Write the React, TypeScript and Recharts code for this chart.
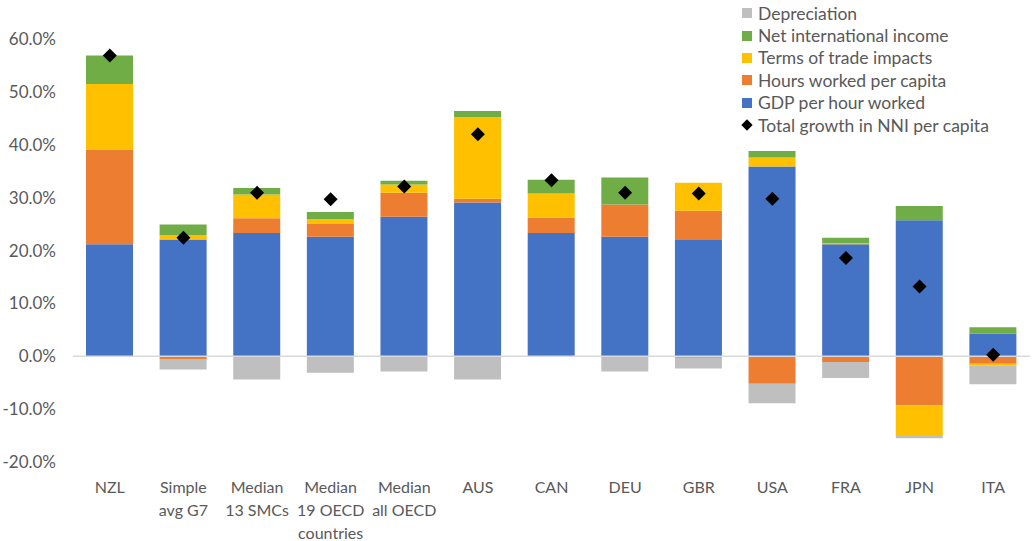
import {
  Bar,
  ComposedChart,
  Line,
  ReferenceLine,
  XAxis,
  YAxis,
} from 'recharts'

if (typeof document !== 'undefined') document.body.style.margin = '0'

const FONT = 'Lato, "Open Sans", sans-serif'
const TEXT = '#595959'

const CATEGORIES = [
  'NZL',
  'Simple\navg G7',
  'Median\n13 SMCs',
  'Median\n19 OECD\ncountries',
  'Median\nall OECD',
  'AUS',
  'CAN',
  'DEU',
  'GBR',
  'USA',
  'FRA',
  'JPN',
  'ITA',
]

/** 單位：百分點 */
const GDP_PER_HOUR = [21.2, 22.1, 23.3, 22.6, 26.4, 29.1, 23.3, 22.6, 22.0, 35.9, 21.2, 25.7, 4.3]
const HOURS_PER_CAPITA = [17.9, -0.5, 2.8, 2.4, 4.5, 0.7, 2.9, 6.1, 5.5, -5.2, -1.1, -9.3, -1.4]
const TERMS_OF_TRADE = [12.4, 0.8, 4.5, 0.9, 1.6, 15.4, 4.6, 0, 5.3, 1.7, 0.2, -5.8, -0.4]
const NET_INTL_INCOME = [5.4, 2.0, 1.2, 1.4, 0.7, 1.2, 2.6, 5.1, -0.3, 1.2, 1.0, 2.7, 1.2]
const DEPRECIATION = [0, -2.0, -4.4, -3.1, -2.9, -4.4, 0, -2.9, -2.0, -3.7, -3.0, -0.4, -3.5]
const TOTAL_NNI = [56.9, 22.4, 30.9, 29.7, 32.1, 42.0, 33.3, 30.9, 30.8, 29.8, 18.6, 13.2, 0.3]

const Y_TICKS = [-20, -10, 0, 10, 20, 30, 40, 50, 60]

const C = {
  gdp: '#4472C4',
  hours: '#ED7D31',
  tot: '#FFC000',
  nii: '#70AD47',
  dep: '#BFBFBF',
}

const LEGEND_ITEMS = [
  { label: 'Depreciation', color: C.dep, kind: 'square' },
  { label: 'Net international income', color: C.nii, kind: 'square' },
  { label: 'Terms of trade impacts', color: C.tot, kind: 'square' },
  { label: 'Hours worked per capita', color: C.hours, kind: 'square' },
  { label: 'GDP per hour worked', color: C.gdp, kind: 'square' },
  { label: 'Total growth in NNI per capita', color: '#000000', kind: 'diamond' },
]

const data = CATEGORIES.map((name, i) => ({
  name,
  gdp: GDP_PER_HOUR[i],
  hours: HOURS_PER_CAPITA[i],
  tot: TERMS_OF_TRADE[i],
  nii: NET_INTL_INCOME[i],
  dep: DEPRECIATION[i],
  total: TOTAL_NNI[i],
}))

function CategoryTick({ x, y, payload }: any) {
  const lines = String(payload.value).split('\n')
  return (
    <text x={x} y={y} textAnchor="middle" fill={TEXT} fontSize={16} fontFamily={FONT}>
      {lines.map((l, i) => (
        <tspan key={i} x={x} dy={i === 0 ? 31 : 23}>
          {l}
        </tspan>
      ))}
    </text>
  )
}

function Diamond({ cx, cy }: any) {
  if (cx == null || cy == null) return null
  const r = 7
  return (
    <polygon
      points={`${cx},${cy - r} ${cx + r},${cy} ${cx},${cy + r} ${cx - r},${cy}`}
      fill="#000000"
    />
  )
}

function LegendBox() {
  return (
    <div
      style={{
        position: 'absolute',
        top: 2,
        left: 742,
        fontFamily: FONT,
        fontSize: 17.5,
        color: TEXT,
      }}
    >
      {LEGEND_ITEMS.map((it) => (
        <div key={it.label} style={{ display: 'flex', alignItems: 'center', height: 22.4 }}>
          {it.kind === 'square' ? (
            <span style={{ width: 10, height: 10, background: it.color, marginRight: 6 }} />
          ) : (
            <span
              style={{
                width: 8,
                height: 8,
                background: it.color,
                transform: 'rotate(45deg)',
                margin: '0 7px 0 1px',
              }}
            />
          )}
          <span style={{ whiteSpace: 'nowrap' }}>{it.label}</span>
        </div>
      ))}
    </div>
  )
}

export default function App() {
  return (
    <div style={{ position: 'relative', width: 1032, height: 541, background: '#ffffff' }}>
      <ComposedChart
        width={1032}
        height={541}
        data={data}
        stackOffset="sign"
        margin={{ top: 39, right: 2, left: 0, bottom: 0 }}
      >
        <XAxis
          dataKey="name"
          height={79}
          axisLine={false}
          tickLine={false}
          interval={0}
          tick={<CategoryTick />}
          tickSize={0}
          tickMargin={0}
        />
        <YAxis
          width={73}
          domain={[-20, 60]}
          ticks={Y_TICKS}
          axisLine={false}
          tickLine={false}
          tickSize={0}
          tickMargin={17}
          tick={{ fontSize: 17, fill: TEXT, fontFamily: FONT }}
          tickFormatter={(v: number) => `${v.toFixed(1)}%`}
        />
        <ReferenceLine y={0} stroke="#D9D9D9" strokeWidth={1.5} />
        <Bar dataKey="gdp" stackId="s" fill={C.gdp} barSize={47} isAnimationActive={false} />
        <Bar dataKey="hours" stackId="s" fill={C.hours} barSize={47} isAnimationActive={false} />
        <Bar dataKey="tot" stackId="s" fill={C.tot} barSize={47} isAnimationActive={false} />
        <Bar dataKey="nii" stackId="s" fill={C.nii} barSize={47} isAnimationActive={false} />
        <Bar dataKey="dep" stackId="s" fill={C.dep} barSize={47} isAnimationActive={false} />
        <Line
          dataKey="total"
          stroke="none"
          strokeWidth={0}
          dot={<Diamond />}
          activeDot={false}
          isAnimationActive={false}
        />
      </ComposedChart>
      <LegendBox />
    </div>
  )
}
